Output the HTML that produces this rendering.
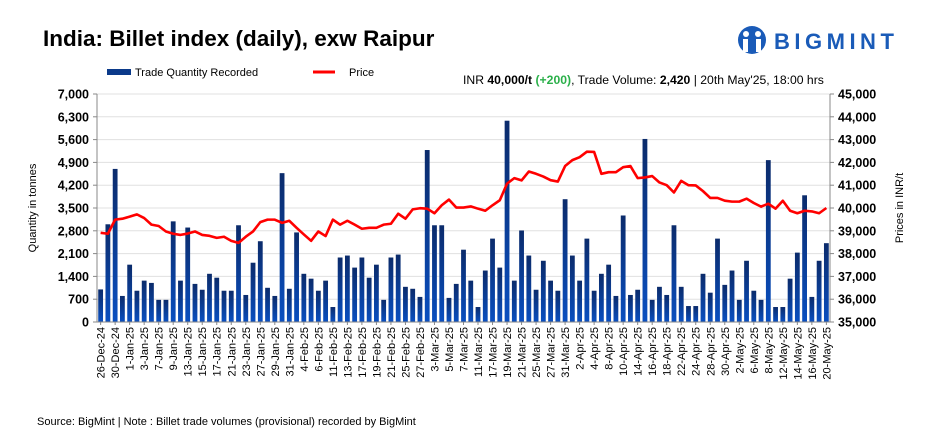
<!DOCTYPE html>
<html><head><meta charset="utf-8"><style>
body{margin:0;background:#fff;}
svg{display:block;font-family:"Liberation Sans",sans-serif;}
</style></head><body>
<svg id="chart" width="939" height="434" viewBox="0 0 939 434" xmlns="http://www.w3.org/2000/svg">
<defs><linearGradient id="bg" x1="0" y1="0" x2="0" y2="1"><stop offset="0" stop-color="#0b2b6b"/><stop offset="1" stop-color="#0a4fc0"/></linearGradient></defs>
<text x="43" y="46" font-size="22.5" font-weight="bold" fill="#000">India: Billet index (daily), exw Raipur</text>
<g>
<circle cx="752" cy="40" r="14" fill="#1a5bb8"/>
<circle cx="746" cy="34" r="3" fill="#fff"/><circle cx="758" cy="34" r="3" fill="#fff"/>
<rect x="743" y="39" width="5" height="13" fill="#fff"/><rect x="756" y="39" width="5" height="13" fill="#fff"/>
<text x="774" y="49" font-size="22" font-weight="bold" fill="#1a5bb8" letter-spacing="4.5">BIGMINT</text>
</g>
<g>
<rect x="107" y="69" width="24" height="6" fill="#0b3a8a"/>
<text x="135" y="76" font-size="11">Trade Quantity Recorded</text>
<line x1="313" y1="72" x2="335" y2="72" stroke="#f00" stroke-width="3"/>
<text x="349" y="76" font-size="11">Price</text>
</g>
<text x="463" y="84" font-size="12.2">INR <tspan font-weight="bold">40,000/t</tspan> <tspan font-weight="bold" fill="#2bb04a">(+200)</tspan>, Trade Volume: <tspan font-weight="bold">2,420</tspan>  | 20th May'25, 18:00 hrs</text>
<g id="grid"></g><g id="bars"></g><g id="line"></g><g id="axes"></g>
<text transform="translate(36,208) rotate(-90)" text-anchor="middle" font-size="11">Quantity in tonnes</text>
<text transform="translate(903,208) rotate(-90)" text-anchor="middle" font-size="11">Prices in INR/t</text>
<text x="37" y="425" font-size="11">Source: BigMint | Note : Billet trade volumes (provisional) recorded by BigMint</text>
</svg>
<script>
const labels=["26-Dec-24","30-Dec-24","1-Jan-25","3-Jan-25","7-Jan-25","9-Jan-25","13-Jan-25","15-Jan-25","17-Jan-25","21-Jan-25","23-Jan-25","27-Jan-25","29-Jan-25","31-Jan-25","4-Feb-25","6-Feb-25","11-Feb-25","13-Feb-25","17-Feb-25","19-Feb-25","21-Feb-25","25-Feb-25","27-Feb-25","3-Mar-25","5-Mar-25","7-Mar-25","11-Mar-25","17-Mar-25","19-Mar-25","21-Mar-25","25-Mar-25","27-Mar-25","31-Mar-25","2-Apr-25","4-Apr-25","8-Apr-25","10-Apr-25","14-Apr-25","16-Apr-25","18-Apr-25","22-Apr-25","24-Apr-25","28-Apr-25","30-Apr-25","2-May-25","6-May-25","8-May-25","12-May-25","14-May-25","16-May-25","20-May-25"];
const quantity=[1000,3000,4700,800,1760,960,1270,1200,680,680,3090,1270,2900,1170,990,1480,1360,960,960,2970,830,1820,2480,1050,800,4570,1020,2750,1480,1330,960,1270,460,1980,2040,1670,1980,1360,1760,680,1980,2070,1080,1020,770,5280,2970,2970,740,1170,2220,1270,460,1580,2560,1670,6180,1270,2810,2040,990,1880,1270,960,3770,2040,1270,2560,960,1480,1760,800,3270,830,990,5620,680,1080,830,2970,1080,490,490,1480,900,2560,1140,1580,680,1880,960,680,4970,460,460,1330,2130,3890,770,1880,2420];
const price=[38910,38870,39490,39530,39620,39720,39560,39270,39210,38970,38870,38820,38880,38970,38820,38780,38690,38740,38560,38470,38740,38970,39380,39490,39490,39350,39440,39130,38840,38560,38970,38770,39490,39270,39440,39270,39090,39130,39130,39270,39310,39750,39530,39940,39990,39970,39770,40120,40370,40020,40020,40070,39970,39880,40120,40340,41070,41310,41210,41600,41500,41380,41220,41160,41840,42100,42230,42470,42460,41500,41570,41570,41790,41840,41310,41340,41400,41120,41000,40680,41190,41000,40990,40740,40440,40440,40320,40280,40280,40410,40220,40060,40190,39970,40320,39880,39770,39880,39850,39770,40000];
const leftTicks=[0,700,1400,2100,2800,3500,4200,4900,5600,6300,7000];
const rightTicks=[35000,36000,37000,38000,39000,40000,41000,42000,43000,44000,45000];
const NS="http://www.w3.org/2000/svg";
const X0=97,X1=830,Y0=322,Y1=94;
const n=quantity.length,step=(X1-X0)/n;
const xPos=i=>X0+step*(i+0.5);
const yQ=v=>Y0-(v/7000)*(Y0-Y1);
const yP=v=>Y0-((v-35000)/10000)*(Y0-Y1);
function mk(tag,attrs,parent){const e=document.createElementNS(NS,tag);for(const k in attrs)e.setAttribute(k,attrs[k]);parent.appendChild(e);return e;}
const grid=document.getElementById('grid'),bars=document.getElementById('bars'),line=document.getElementById('line'),axes=document.getElementById('axes');
leftTicks.forEach((t,i)=>{const y=yQ(t);
 if(i>0){const g=mk('line',{x1:X0,x2:X1,y1:y,y2:y,stroke:'#e0e0e0','stroke-width':1},grid);}
 const tx=mk('text',{x:89,y:y+4.5,'text-anchor':'end','font-size':12.5,'font-weight':'bold'},axes);tx.textContent=t.toLocaleString('en-US');
 
 mk('line',{x1:X0-4,x2:X0,y1:y,y2:y,stroke:'#888'},axes);
});
rightTicks.forEach(t=>{const y=yP(t);
 const tx=mk('text',{x:838,y:y+4.5,'font-size':12.5,'font-weight':'bold'},axes);tx.textContent=t.toLocaleString('en-US');
 
 mk('line',{x1:X1,x2:X1+4,y1:y,y2:y,stroke:'#888'},axes);
});
mk('line',{x1:X0,x2:X0,y1:Y1,y2:Y0,stroke:'#888'},axes);
mk('line',{x1:X1,x2:X1,y1:Y1,y2:Y0,stroke:'#888'},axes);
mk('line',{x1:X0,x2:X1,y1:Y0,y2:Y0,stroke:'#888'},axes);
quantity.forEach((v,i)=>{const y=yQ(v);
 const r=mk('rect',{x:xPos(i)-2.4,y:y,width:4.8,height:Y0-y,fill:'url(#bg)'},bars);
 
});
const pl=mk('polyline',{points:price.map((v,i)=>xPos(i)+','+yP(v)).join(' '),fill:'none',stroke:'#f00','stroke-width':2.6,'stroke-linejoin':'round'},line);

labels.forEach((l,j)=>{const i=j*2;if(i>=n)return;const x=xPos(i);
 mk('line',{x1:x,x2:x,y1:Y0,y2:Y0+3,stroke:'#888'},axes);
 const tx=mk('text',{transform:`translate(${x+4},${Y0+5}) rotate(-90)`,'text-anchor':'end','font-size':11},axes);tx.textContent=l;
 
});
</script>
</body></html>
